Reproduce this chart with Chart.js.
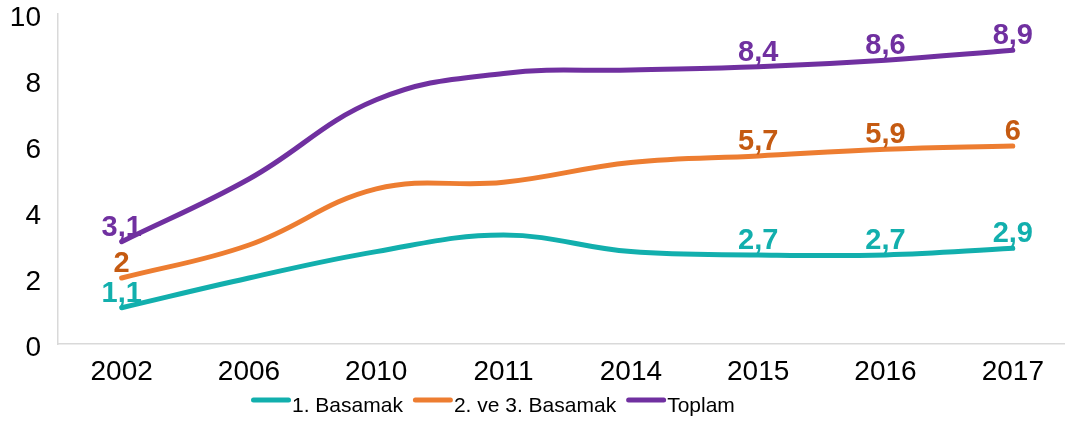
<!DOCTYPE html>
<html>
<head>
<meta charset="utf-8">
<script src="https://cdn.jsdelivr.net/npm/chart.js@4.4.1/dist/chart.umd.min.js"></script>
<style>
  body { margin: 0; background: #fff; }
  #wrap { width: 1065px; height: 423px; }
</style>
</head>
<body>
<div id="wrap"><canvas id="myChart" width="1065" height="423"></canvas></div>
<script>
// values
var years = ['2002', '2006', '2010', '2011', '2014', '2015', '2016', '2017'];
var basamak1 = [1.1, 2.0, 2.8, 3.3, 2.8, 2.7, 2.7, 2.9];
var basamak23 = [2.0, 3.0, 4.7, 4.9, 5.5, 5.7, 5.9, 6.0];
var toplam = [3.1, 5.0, 7.4, 8.2, 8.3, 8.4, 8.6, 8.9];
var seriesNames = ['1. Basamak', '2. ve 3. Basamak', 'Toplam'];
var lineColors = ['#12AFAD', '#ED7D31', '#7030A0'];
var labelColors = ['#12AFAD', '#C55A11', '#7030A0'];
var labeledPoints = [0, 5, 6, 7];   // only these have value labels
var yTicks = [0, 2, 4, 6, 8, 10];

function toPoints(arr) {
  return arr.map(function(v, i) { return { x: i, y: v }; });
}

function makeSet(name, arr, i) {
  return {
    label: name,
    data: toPoints(arr),
    borderColor: lineColors[i],
    backgroundColor: lineColors[i],
    borderWidth: 5,
    borderCapStyle: 'round',
    pointRadius: 0,
    tension: 0.4,
    fill: false
  };
}

// value labels above chosen points (comma decimals)
var valueLabels = {
  id: 'valueLabels',
  afterDatasetsDraw: function(chart) {
    var ctx = chart.ctx;
    ctx.save();
    ctx.font = 'bold 29px "Liberation Sans", Arial, sans-serif';
    ctx.textAlign = 'center';
    ctx.textBaseline = 'alphabetic';
    chart.data.datasets.forEach(function(ds, i) {
      var meta = chart.getDatasetMeta(i);
      ctx.fillStyle = labelColors[i];
      labeledPoints.forEach(function(j) {
        var pt = meta.data[j];
        var txt = String(ds.data[j].y).replace('.', ',');
        ctx.fillText(txt, pt.x, pt.y - 6);
      });
    });
    ctx.restore();
  }
};

// legend drawn by hand so it sits where the original has it
var lineLegend = {
  id: 'lineLegend',
  afterDraw: function(chart) {
    var ctx = chart.ctx;
    ctx.save();
    ctx.font = '21px "Liberation Sans", Arial, sans-serif';
    ctx.textBaseline = 'alphabetic';
    ctx.textAlign = 'left';
    var x = 251;
    var yLine = 400;
    chart.data.datasets.forEach(function(ds, i) {
      ctx.strokeStyle = ds.borderColor;
      ctx.lineWidth = 5;
      ctx.lineCap = 'round';
      ctx.beginPath();
      ctx.moveTo(x + 2.5, yLine);
      ctx.lineTo(x + 37.5, yLine);
      ctx.stroke();
      x += 41;
      ctx.fillStyle = '#000';
      ctx.fillText(ds.label, x, 412);
      x += ctx.measureText(ds.label).width + 10;
    });
    ctx.restore();
  }
};

var ctx = document.getElementById('myChart');
var myChart = new Chart(ctx, {
  type: 'line',
  data: {
    datasets: [
      makeSet(seriesNames[0], basamak1, 0),
      makeSet(seriesNames[1], basamak23, 1),
      makeSet(seriesNames[2], toplam, 2)
    ]
  },
  options: {
    responsive: false,
    animation: false,
    layout: { padding: { top: 14, left: 0, right: 0, bottom: 0 } },
    plugins: {
      legend: { display: false },
      tooltip: { enabled: false }
    },
    scales: {
      x: {
        type: 'linear',
        min: -0.5,
        max: 7.41,
        grid: { display: false, drawTicks: false },
        border: { display: true, color: '#D9D9D9', width: 1.5 },
        afterBuildTicks: function(scale) {
          scale.ticks = years.map(function(y, i) { return { value: i }; });
        },
        afterFit: function(scale) {
          scale.height = 79;
          scale.paddingLeft = 0;
          scale.paddingRight = 0;
        },
        ticks: {
          autoSkip: false,
          maxRotation: 0,
          padding: 11,
          color: '#000',
          font: { family: '"Liberation Sans", Arial, sans-serif', size: 28 },
          callback: function(v) { return years[v]; }
        }
      },
      y: {
        min: 0,
        max: 10,
        grid: { display: false, drawTicks: false },
        border: { display: true, color: '#D9D9D9', width: 1.5 },
        afterBuildTicks: function(scale) {
          scale.ticks = yTicks.map(function(v) { return { value: v }; });
        },
        afterFit: function(scale) {
          scale.width = 58;
          scale.paddingTop = 0;
          scale.paddingBottom = 0;
        },
        ticks: {
          padding: 17,
          labelOffset: 4,
          color: '#000',
          font: { family: '"Liberation Sans", Arial, sans-serif', size: 28 }
        }
      }
    }
  },
  plugins: [valueLabels, lineLegend]
});
</script>
</body>
</html>
